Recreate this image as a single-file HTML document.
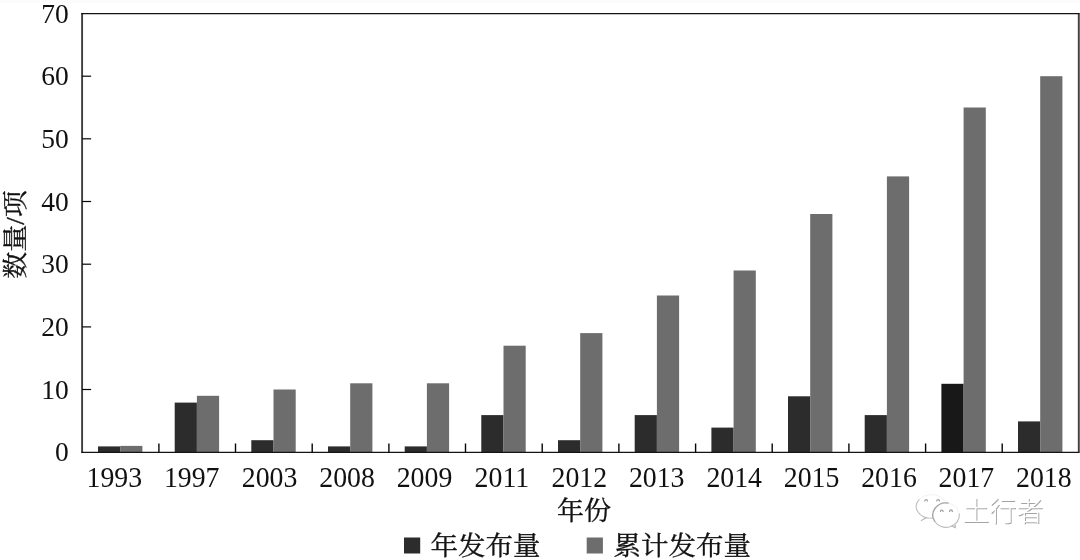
<!DOCTYPE html>
<html lang="zh"><head><meta charset="utf-8"><title>年发布量 累计发布量</title>
<style>html,body{margin:0;padding:0;background:#fff;}body{width:1080px;height:560px;overflow:hidden;}svg{display:block;}.n{font-family:'Liberation Serif','Noto Serif CJK SC',serif;font-size:27.5px;fill:#111;}.x{font-size:27.8px;}.c{font-family:'Liberation Serif','Noto Serif CJK SC',serif;font-size:27px;fill:#111;stroke:#111;stroke-width:0.35px;}.w{font-family:'Liberation Sans','Noto Sans CJK SC',sans-serif;font-size:27px;font-weight:300;}</style></head><body>
<svg width="1080" height="560" viewBox="0 0 1080 560">
<defs><filter id="b" x="-10%" y="-10%" width="120%" height="120%"><feGaussianBlur stdDeviation="0.45"/></filter></defs>
<rect width="1080" height="560" fill="#fff"/><rect width="1080" height="3" fill="#fcfcfc"/>
<rect x="98.0" y="446.4" width="22.2" height="5.8" fill="#2c2c2c"/>
<rect x="120.2" y="445.9" width="22.2" height="6.3" fill="#6d6d6d"/>
<rect x="174.7" y="402.6" width="22.2" height="49.6" fill="#2c2c2c"/>
<rect x="196.9" y="395.8" width="22.2" height="56.4" fill="#6d6d6d"/>
<rect x="251.3" y="440.2" width="22.2" height="12.0" fill="#2c2c2c"/>
<rect x="273.5" y="389.5" width="22.2" height="62.7" fill="#6d6d6d"/>
<rect x="328.0" y="446.4" width="22.2" height="5.8" fill="#2c2c2c"/>
<rect x="350.2" y="383.3" width="22.2" height="68.9" fill="#6d6d6d"/>
<rect x="404.7" y="446.4" width="22.2" height="5.8" fill="#2c2c2c"/>
<rect x="426.9" y="383.3" width="22.2" height="68.9" fill="#6d6d6d"/>
<rect x="481.3" y="415.1" width="22.2" height="37.1" fill="#2c2c2c"/>
<rect x="503.5" y="345.7" width="22.2" height="106.5" fill="#6d6d6d"/>
<rect x="558.0" y="440.2" width="22.2" height="12.0" fill="#2c2c2c"/>
<rect x="580.2" y="333.1" width="22.2" height="119.1" fill="#6d6d6d"/>
<rect x="634.7" y="415.1" width="22.2" height="37.1" fill="#2c2c2c"/>
<rect x="656.9" y="295.5" width="22.2" height="156.7" fill="#6d6d6d"/>
<rect x="711.4" y="427.6" width="22.2" height="24.6" fill="#2c2c2c"/>
<rect x="733.6" y="270.5" width="22.2" height="181.7" fill="#6d6d6d"/>
<rect x="788.0" y="396.3" width="22.2" height="55.9" fill="#2c2c2c"/>
<rect x="810.2" y="214.0" width="22.2" height="238.2" fill="#6d6d6d"/>
<rect x="864.7" y="415.1" width="22.2" height="37.1" fill="#2c2c2c"/>
<rect x="886.9" y="176.4" width="22.2" height="275.8" fill="#6d6d6d"/>
<rect x="941.4" y="383.8" width="22.2" height="68.4" fill="#181818"/>
<rect x="963.6" y="107.5" width="22.2" height="344.7" fill="#6d6d6d"/>
<rect x="1018.0" y="421.4" width="22.2" height="30.8" fill="#2c2c2c"/>
<rect x="1040.2" y="76.2" width="22.2" height="376.0" fill="#6d6d6d"/>
<path d="M82.10000000000001 12.9 V452.8 M1078.8000000000002 12.9 V452.8" stroke="#3e3e3e" stroke-width="1.9" fill="none"/>
<path d="M81.2 13.5 H1079.4 M81.2 452.3 H1079.4" stroke="#141414" stroke-width="1.25" fill="none"/>
<g stroke="#050505" fill="none">
<path d="M82.2 389.5 h8.9" stroke-width="1.2"/>
<path d="M82.2 326.9 h8.9" stroke-width="1.2"/>
<path d="M82.2 264.2 h8.9" stroke-width="1.2"/>
<path d="M82.2 201.5 h8.9" stroke-width="1.2"/>
<path d="M82.2 138.8 h8.9" stroke-width="1.2"/>
<path d="M82.2 76.2 h8.9" stroke-width="1.2"/>
<path d="M158.9 452.2 v-8.7" stroke-width="1.4"/>
<path d="M235.5 452.2 v-8.7" stroke-width="1.4"/>
<path d="M312.2 452.2 v-8.7" stroke-width="1.4"/>
<path d="M388.9 452.2 v-8.7" stroke-width="1.4"/>
<path d="M465.5 452.2 v-8.7" stroke-width="1.4"/>
<path d="M542.2 452.2 v-8.7" stroke-width="1.4"/>
<path d="M618.9 452.2 v-8.7" stroke-width="1.4"/>
<path d="M695.6 452.2 v-8.7" stroke-width="1.4"/>
<path d="M772.2 452.2 v-8.7" stroke-width="1.4"/>
<path d="M848.9 452.2 v-8.7" stroke-width="1.4"/>
<path d="M925.6 452.2 v-8.7" stroke-width="1.4"/>
<path d="M1002.2 452.2 v-8.7" stroke-width="1.4"/>
</g>
<text class="n" x="68.7" y="461.3" text-anchor="end">0</text>
<text class="n" x="68.7" y="398.6" text-anchor="end">10</text>
<text class="n" x="68.7" y="336.0" text-anchor="end">20</text>
<text class="n" x="68.7" y="273.3" text-anchor="end">30</text>
<text class="n" x="68.7" y="210.6" text-anchor="end">40</text>
<text class="n" x="68.7" y="147.9" text-anchor="end">50</text>
<text class="n" x="68.7" y="85.3" text-anchor="end">60</text>
<text class="n" x="68.7" y="22.6" text-anchor="end">70</text>
<text class="n x" transform="translate(114.3,486.8) scale(1,1.04)" text-anchor="middle">1993</text>
<text class="n x" transform="translate(191.7,486.8) scale(1,1.04)" text-anchor="middle">1997</text>
<text class="n x" transform="translate(269.6,486.8) scale(1,1.04)" text-anchor="middle">2003</text>
<text class="n x" transform="translate(347.1,486.8) scale(1,1.04)" text-anchor="middle">2008</text>
<text class="n x" transform="translate(424.5,486.8) scale(1,1.04)" text-anchor="middle">2009</text>
<text class="n x" transform="translate(501.9,486.8) scale(1,1.04)" text-anchor="middle">2011</text>
<text class="n x" transform="translate(579.3,486.8) scale(1,1.04)" text-anchor="middle">2012</text>
<text class="n x" transform="translate(656.7,486.8) scale(1,1.04)" text-anchor="middle">2013</text>
<text class="n x" transform="translate(734.2,486.8) scale(1,1.04)" text-anchor="middle">2014</text>
<text class="n x" transform="translate(811.6,486.8) scale(1,1.04)" text-anchor="middle">2015</text>
<text class="n x" transform="translate(889.0,486.8) scale(1,1.04)" text-anchor="middle">2016</text>
<text class="n x" transform="translate(966.4,486.8) scale(1,1.04)" text-anchor="middle">2017</text>
<text class="n x" transform="translate(1043.8,486.8) scale(1,1.04)" text-anchor="middle">2018</text>
<text class="c" transform="translate(24.3,234.4) rotate(-90) scale(1,0.94)" text-anchor="middle">数量/项</text>
<text class="c" transform="translate(584,520.3) scale(1,0.95)" text-anchor="middle">年份</text>
<rect x="404" y="537.5" width="16.2" height="16" fill="#2c2c2c"/>
<text class="c" transform="translate(430.6,554.8) scale(1.018,0.95)">年发布量</text>
<rect x="586.7" y="537.5" width="16.2" height="16" fill="#6d6d6d"/>
<text class="c" transform="translate(613.6,554.8) scale(1.018,0.95)">累计发布量</text>
<g fill="none" stroke-linecap="round" stroke-linejoin="round" filter="url(#b)">
<path d="M919.05 499.73 A15.2 11.8 0 0 1 945.28 501.51" stroke="#f1f1f1" stroke-width="1"/>
<path d="M919.05 499.73 A15.2 11.8 0 0 0 932.56 518.27" stroke="#c2c2c2" stroke-width="1.1"/>
<path d="M926.9 517.4 L921.3 520.5" stroke="#b8b8b8" stroke-width="1.1"/>
<path d="M947.95 503.02 A13.3 12.2 0 0 1 959.35 514.04" stroke="#f0f0f0" stroke-width="1"/>
<path d="M934.58 521.20 A13.3 12.2 0 0 0 959.35 514.04" stroke="#bcbcbc" stroke-width="1.1"/>
<path d="M947.95 503.02 A13.3 12.2 0 0 0 934.58 521.20" stroke="#a6a6a6" stroke-width="1.4"/>
<path d="M951.8 525.9 L955.4 527.8 L955.1 524.9" stroke="#b4b4b4" stroke-width="1.1"/>
<path d="M924.8 500.9 A1.35 1.35 0 0 1 927.5 500.9" stroke="#a4a4a4" stroke-width="1.3"/>
<path d="M936.8 500.9 A1.35 1.35 0 0 1 939.5 500.9" stroke="#a4a4a4" stroke-width="1.3"/>
<path d="M940.4 511.4 A1.35 1.35 0 0 1 943.1 511.4" stroke="#a4a4a4" stroke-width="1.3"/>
<path d="M949.6 511.4 A1.35 1.35 0 0 1 952.4 511.4" stroke="#a4a4a4" stroke-width="1.3"/>
</g>
<g transform="translate(0.9,0.9)" filter="url(#b)"><text class="w" x="962.3" y="520.8" fill="#a4a4a4">土行者</text></g>
<g transform="translate(0,0)" ><text class="w" x="962.3" y="520.8" fill="#ffffff">土行者</text></g>
</svg></body></html>
